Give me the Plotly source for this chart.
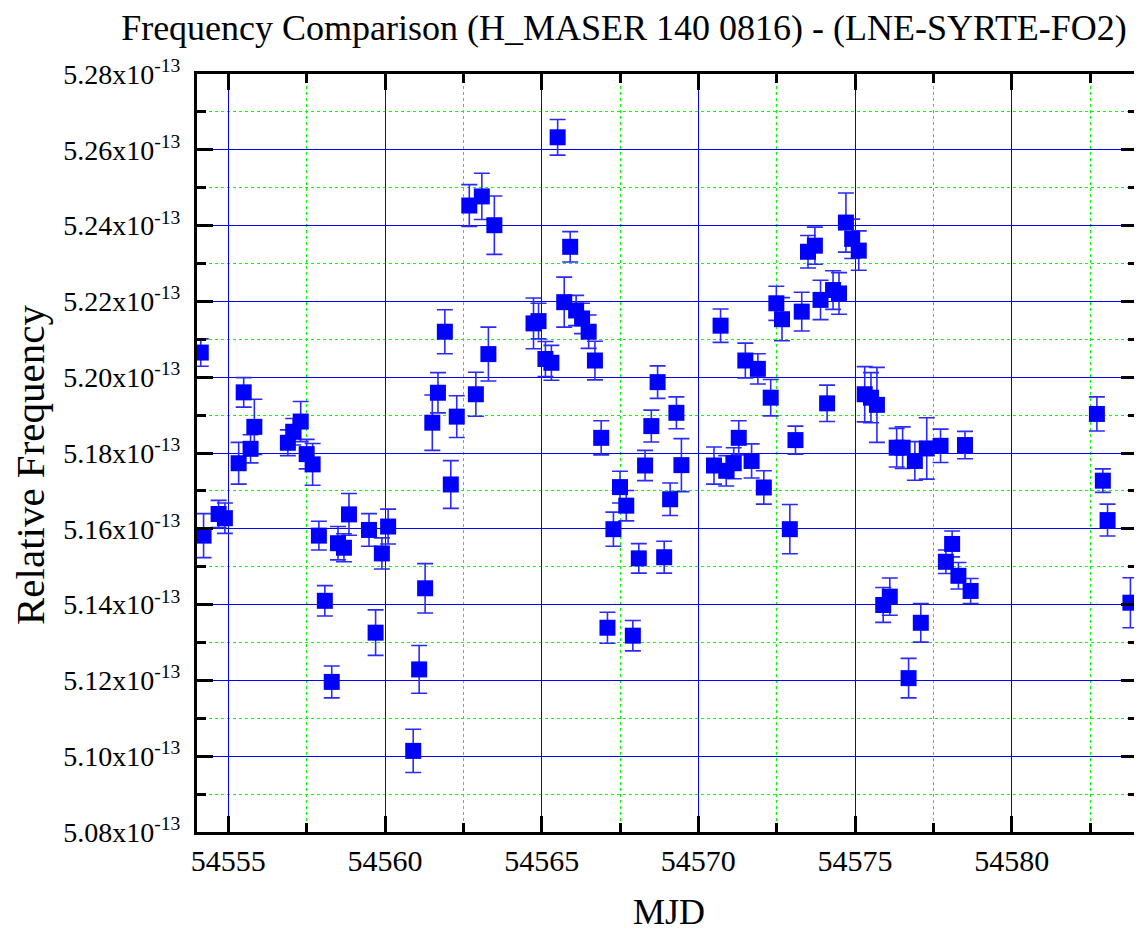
import plotly.graph_objects as go

# MJD of each measurement
mjd = [
    54554.12, 54554.21, 54554.69, 54554.89, 54555.33, 54555.49, 54555.71, 54555.83,
    54556.90, 54557.07, 54557.31, 54557.50, 54557.69, 54557.89, 54558.08, 54558.30,
    54558.50, 54558.69, 54558.85, 54559.49, 54559.70, 54559.90, 54560.10, 54560.90,
    54561.09, 54561.28, 54561.51, 54561.69, 54561.91, 54562.10, 54562.29, 54562.69,
    54562.90, 54563.09, 54563.30, 54563.49, 54564.74, 54564.90, 54565.12, 54565.31,
    54565.51, 54565.72, 54565.91, 54566.10, 54566.29, 54566.50, 54566.70, 54566.90,
    54567.10, 54567.29, 54567.50, 54567.70, 54567.91, 54568.10, 54568.30, 54568.50,
    54568.70, 54568.91, 54569.10, 54569.30, 54569.46, 54570.50, 54570.71, 54570.89,
    54571.13, 54571.29, 54571.50, 54571.70, 54571.90, 54572.09, 54572.31, 54572.49,
    54572.67, 54572.92, 54573.10, 54573.30, 54573.50, 54573.72, 54573.90, 54574.11,
    54574.30, 54574.49, 54574.71, 54574.91, 54575.12, 54575.31, 54575.51, 54575.70,
    54575.90, 54576.11, 54576.33, 54576.52, 54576.71, 54576.91, 54577.10, 54577.29,
    54577.73, 54577.90, 54578.10, 54578.30, 54578.51, 54578.69, 54582.72, 54582.91,
    54583.06, 54583.79,
]

# Relative frequency, in units of 1e-13
freq_e13 = [
    5.2065, 5.1582, 5.1639, 5.1628, 5.1773, 5.1960, 5.1811, 5.1869,
    5.1827, 5.1856, 5.1883, 5.1797, 5.1770, 5.1582, 5.1410, 5.1196,
    5.1562, 5.1550, 5.1638, 5.1597, 5.1326, 5.1535, 5.1606, 5.1014,
    5.1229, 5.1443, 5.1880, 5.1959, 5.2120, 5.1717, 5.1896, 5.2453,
    5.1955, 5.2477, 5.2061, 5.2401, 5.2142, 5.2148, 5.2048, 5.2038,
    5.2633, 5.2198, 5.2344, 5.2176, 5.2155, 5.2120, 5.2044, 5.1840,
    5.1339, 5.1599, 5.1710, 5.1661, 5.1318, 5.1522, 5.1767, 5.1871,
    5.1987, 5.1525, 5.1678, 5.1906, 5.1768, 5.1767, 5.2136, 5.1753,
    5.1773, 5.1840, 5.2044, 5.1779, 5.2022, 5.1709, 5.1946, 5.2195,
    5.2153, 5.1599, 5.1834, 5.2173, 5.2331, 5.2347, 5.2204, 5.1931,
    5.2230, 5.2221, 5.2408, 5.2365, 5.2334, 5.1955, 5.1946, 5.1927,
    5.1399, 5.1421, 5.1814, 5.1814, 5.1206, 5.1779, 5.1352, 5.1812,
    5.1819, 5.1513, 5.1560, 5.1476, 5.1821, 5.1436, 5.1903, 5.1727,
    5.1623, 5.1405,
]

# Error bar half-lengths, in units of 1e-13
err_e13 = [
    0.0036, 0.0058, 0.0036, 0.0040, 0.0055, 0.0039, 0.0037, 0.0073,
    0.0034, 0.0035, 0.0053, 0.0039, 0.0055, 0.0038, 0.0040, 0.0042,
    0.0044, 0.0037, 0.0055, 0.0043, 0.0060, 0.0041, 0.0046, 0.0057,
    0.0063, 0.0065, 0.0073, 0.0053, 0.0058, 0.0063, 0.0055, 0.0055,
    0.0058, 0.0061, 0.0071, 0.0077, 0.0067, 0.0047, 0.0046, 0.0046,
    0.0047, 0.0066, 0.0040, 0.0040, 0.0040, 0.0044, 0.0051, 0.0045,
    0.0041, 0.0045, 0.0042, 0.0040, 0.0040, 0.0039, 0.0040, 0.0042,
    0.0043, 0.0042, 0.0043, 0.0042, 0.0070, 0.0049, 0.0044, 0.0040,
    0.0041, 0.0045, 0.0046, 0.0045, 0.0040, 0.0044, 0.0048, 0.0045,
    0.0057, 0.0065, 0.0037, 0.0051, 0.0043, 0.0049, 0.0052, 0.0048,
    0.0051, 0.0055, 0.0078, 0.0052, 0.0052, 0.0073, 0.0066, 0.0099,
    0.0046, 0.0049, 0.0051, 0.0055, 0.0052, 0.0051, 0.0051, 0.0081,
    0.0044, 0.0031, 0.0034, 0.0035, 0.0036, 0.0033, 0.0045, 0.0031,
    0.0042, 0.0066,
]

y_tick_vals_e13 = [5.08, 5.10, 5.12, 5.14, 5.16, 5.18, 5.20, 5.22, 5.24, 5.26, 5.28]
y_tick_text = ["%.2fx10<sup>-13</sup>" % v for v in y_tick_vals_e13]

SCALE = 1e-13
freq = [v * SCALE for v in freq_e13]
err = [e * SCALE for e in err_e13]
y_tick_vals = [v * SCALE for v in y_tick_vals_e13]

FONT = "Liberation Serif"
GREEN = "#00ff00"

fig = go.Figure()
fig.add_trace(go.Scatter(
    x=mjd, y=freq, mode="markers",
    marker=dict(symbol="square", size=16, color="#0000ff", line=dict(width=0)),
    error_y=dict(type="data", array=err, visible=True, color="#2a2aff",
                 thickness=1.6, width=8),
    showlegend=False,
))

axis_common = dict(
    showline=True, linecolor="black", linewidth=3, mirror="allticks",
    ticks="inside", ticklen=16, tickwidth=3, tickcolor="black",
    showgrid=True, gridcolor="#0000ff", gridwidth=1.3,
    zeroline=False, automargin=False,
)

fig.update_xaxes(
    **axis_common,
    range=[54554, 54584], tick0=54555, dtick=5, tickmode="linear",
    tickformat="d",
    tickfont=dict(family=FONT, size=30, color="black"),
    minor=dict(tickmode="linear", dtick=2.5, tick0=54555, ticks="inside",
               ticklen=9, tickwidth=3, tickcolor="black", showgrid=True,
               gridcolor=GREEN, griddash="dot", gridwidth=1.2),
)
fig.update_yaxes(
    **axis_common,
    range=[5.08e-13, 5.28e-13], tickmode="array",
    tickvals=y_tick_vals, ticktext=y_tick_text,
    ticklabelstandoff=8,
    tickfont=dict(family=FONT, size=28, color="black"),
    minor=dict(tickmode="linear", tick0=5.08e-13, dtick=0.01e-13,
               ticks="inside", ticklen=9, tickwidth=3,
               tickcolor="black", showgrid=True, gridcolor=GREEN,
               griddash="dot", gridwidth=1.2),
)

# the page body adds an 8px offset, so the figure is sized 8px smaller
fig.update_layout(
    width=1134, height=927,
    margin=dict(l=189, r=5, t=66, b=103),
    paper_bgcolor="white", plot_bgcolor="white",
    font=dict(family=FONT, color="black"),
    title=dict(text="Frequency Comparison (H_MASER 140 0816) - (LNE-SYRTE-FO2)",
               xref="container", yref="container", x=616 / 1134, y=1 - 19 / 927,
               xanchor="center", yanchor="middle",
               font=dict(family=FONT, size=36, color="black")),
    annotations=[
        dict(text="MJD", xref="paper", yref="paper", x=(669 - 197) / 940,
             y=(832 - 912) / 758, showarrow=False, xanchor="center",
             yanchor="middle", font=dict(family=FONT, size=36, color="black")),
        dict(text="Relative Frequency", xref="paper", yref="paper",
             x=(30 - 197) / 940, y=(832 - 465) / 758, showarrow=False,
             textangle=-90, xanchor="center", yanchor="middle",
             font=dict(family=FONT, size=41, color="black")),
    ],
)

fig.write_html("out.html")
